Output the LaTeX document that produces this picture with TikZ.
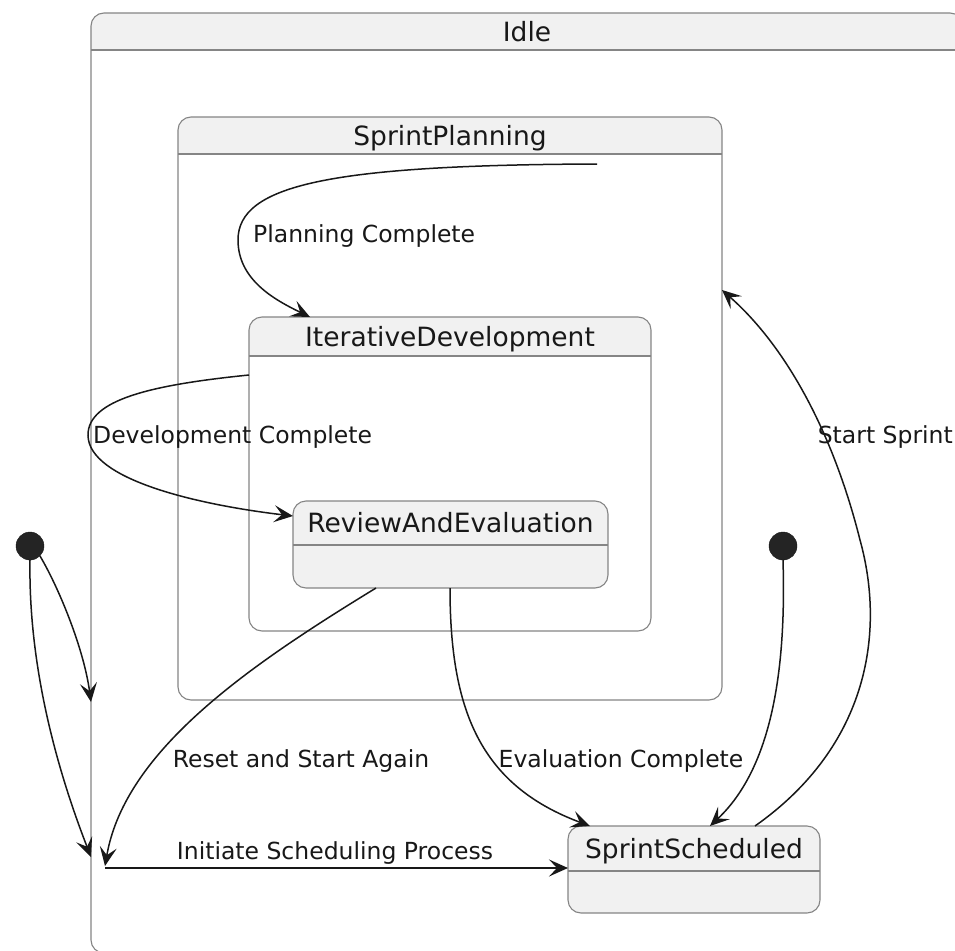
\documentclass[tikz,border=0pt]{standalone}
\usepackage{fontspec}
\setmainfont{DejaVu Sans}
\usetikzlibrary{arrows.meta,fit}
\definecolor{hdr}{HTML}{F1F1F1}
\definecolor{bord}{HTML}{858585}
\definecolor{ink}{HTML}{181818}
\tikzset{
  border/.style={draw=bord, line width=1.1pt, rounded corners=13pt},
  title/.style={font=\fontsize{26.5}{31}\selectfont, text=ink, inner sep=0pt, text height=0.74em, text depth=0.2em},
  lbl/.style={font=\fontsize{23.5}{28}\selectfont, text=ink, inner sep=0pt, text height=0.74em, text depth=0.2em},
  conn/.style={draw=ink, line width=1.5pt, -{Stealth[length=19pt,width=17pt,inset=8pt]}},
  initdot/.style={circle, fill=ink!95, draw=ink, minimum size=28pt, inner sep=0pt},
  fitbox/.style={inner sep=0pt, draw=none},
}
% #1 name, #2 x1, #3 y1, #4 x2, #5 y2, #6 header bottom, #7 title, #8 body fill
\newcommand\mystate[8]{%
  \begin{scope}
    \clip[rounded corners=13pt] (#2,#3) rectangle (#4,#5);
    \fill[#8] (#2,#3) rectangle (#4,#5);
    \fill[hdr] (#2,#3) rectangle (#4,#6);
  \end{scope}
  \coordinate (#1-nw) at (#2,#3);
  \coordinate (#1-se) at (#4,#5);
  \node[fitbox, fit=(#1-nw)(#1-se)] (#1) {};
  \draw[border] (#2,#3) rectangle (#4,#5);
  \draw[draw=bord, line width=1.1pt] (#2,#6) -- (#4,#6);
  \node[title] (#1-title) at ({(#2+#4)/2},{(#3+#6)/2+7}) {#7};
}
\begin{document}
\begin{tikzpicture}[x=1pt,y=-1pt]
\useasboundingbox (0,0) rectangle (955,950);
\fill[white] (0,0) rectangle (955,950);

\mystate{idle}{91}{13}{963}{953}{50}{Idle}{white}
\mystate{plan}{178}{117}{722}{700}{154}{SprintPlanning}{white}
\mystate{iter}{249}{317}{651}{631}{356}{IterativeDevelopment}{white}
\mystate{rev}{293}{501}{608}{588}{545}{ReviewAndEvaluation}{hdr}
\mystate{sched}{568}{826}{820}{913}{871}{SprintScheduled}{hdr}

\node[initdot] (init1) at (30,546) {};
\node[initdot] (init2) at (783,546) {};

% attachment points
\coordinate (planStart) at (597,164);
\coordinate (iterTop) at (310,317);
\coordinate (iterLeft) at (249,375);
\coordinate (revLeft) at (293,516);
\coordinate (revB1) at (376,588);
\coordinate (revB2) at (450,588);
\coordinate (resetEnd) at (105,866);
\coordinate (schedT1) at (590,826);
\coordinate (schedT2) at (710,826);
\coordinate (schedT3) at (755,826);
\coordinate (planRight) at (722,290);
\coordinate (idleA) at (91,702);
\coordinate (idleB) at (91,857);
\coordinate (initStart) at (105,868);
\coordinate (schedLeft) at (568,868);

% Planning Complete
\draw[conn] (planStart) .. controls (330,165) and (238,185) .. (238,240)
  .. controls (238,280) and (275,300) .. (iterTop);
\node[lbl, anchor=west] (lplan) at (253,240) {Planning Complete};

% Development Complete
\draw[conn] (iterLeft) .. controls (150,385) and (88,400) .. (88,435)
  .. controls (88,480) and (200,505) .. (revLeft);
\node[lbl, anchor=west] (ldev) at (93,441) {Development Complete};

% Reset and Start Again
\draw[conn] (revB1) .. controls (250,665) and (125,750) .. (resetEnd);
\node[lbl] (lreset) at (301,765) {Reset and Start Again};

% Evaluation Complete
\draw[conn] (revB2) .. controls (450,710) and (480,785) .. (schedT1);
\node[lbl] (leval) at (621,765) {Evaluation Complete};

% init2 -> SprintScheduled
\draw[conn] (init2.south) .. controls (786,660) and (775,765) .. (schedT2);

% Start Sprint
\draw[conn] (schedT3) .. controls (870,745) and (885,630) .. (860,540)
  .. controls (835,440) and (790,350) .. (planRight);
\node[lbl, anchor=east] (lstart) at (953,441) {Start Sprint};

% init1 -> Idle
\draw[conn] (init1.south east) .. controls (60,590) and (84,650) .. (idleA);
\draw[conn] (init1.south) .. controls (28,680) and (65,790) .. (idleB);

% Initiate Scheduling Process
\draw[conn] (initStart) -- (schedLeft);
\node[lbl] (linit) at (335,857) {Initiate Scheduling Process};
\end{tikzpicture}
\end{document}
